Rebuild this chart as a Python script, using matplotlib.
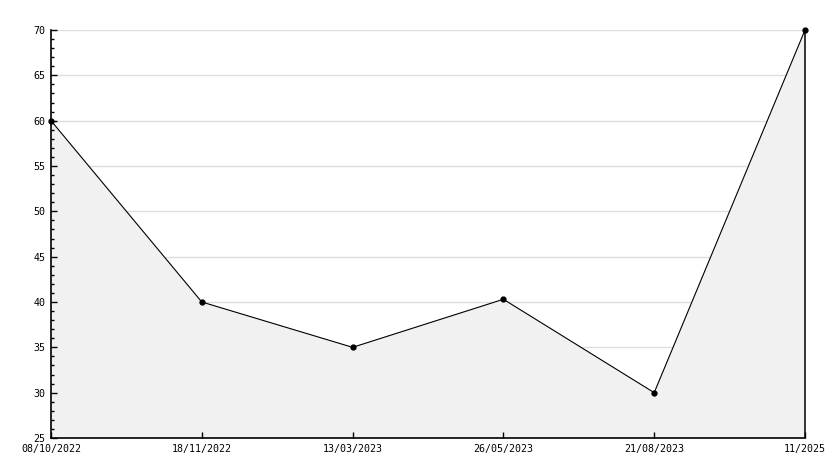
import matplotlib.pyplot as plt
from matplotlib.ticker import MultipleLocator

labels = ["08/10/2022", "18/11/2022", "13/03/2023", "26/05/2023", "21/08/2023", "11/2025"]
values = [60, 40, 35, 40.3, 30, 70]

fig = plt.figure(figsize=(8.34, 4.68), dpi=100)
ax = fig.add_axes([51 / 834, 30 / 468, 754 / 834, 408 / 468])

x = list(range(len(values)))
ax.set_xlim(0, len(values) - 1)
ax.set_ylim(25, 70)

# grid under the fill, ticks above it
for yv in range(30, 71, 5):
    ax.axhline(yv, color="#dddddd", linewidth=1, zorder=0)

ax.fill_between(x, values, 25, facecolor="#f1f1f1", edgecolor="none", zorder=1)
ax.vlines(x[-1], 25, values[-1], color="black", linewidth=1.1, zorder=2, clip_on=False)
ax.plot(x, values, color="black", linewidth=0.8, marker="o", markersize=3.5, zorder=3, clip_on=False)

ax.set_xticks(x)
ax.set_xticklabels(labels)
ax.yaxis.set_major_locator(MultipleLocator(5))
ax.yaxis.set_minor_locator(MultipleLocator(1))

for s in ["top", "right"]:
    ax.spines[s].set_visible(False)
for s in ["left", "bottom"]:
    ax.spines[s].set_linewidth(1.2)
    ax.spines[s].set_zorder(4)

ax.tick_params(axis="both", which="major", direction="in", length=4, width=1, pad=4)
ax.tick_params(axis="y", which="minor", direction="in", length=2.5, width=1)
for lbl in ax.get_xticklabels() + ax.get_yticklabels():
    lbl.set_family("DejaVu Sans Mono")
    lbl.set_fontsize(7.2)

fig.savefig("out.png", dpi=100)
